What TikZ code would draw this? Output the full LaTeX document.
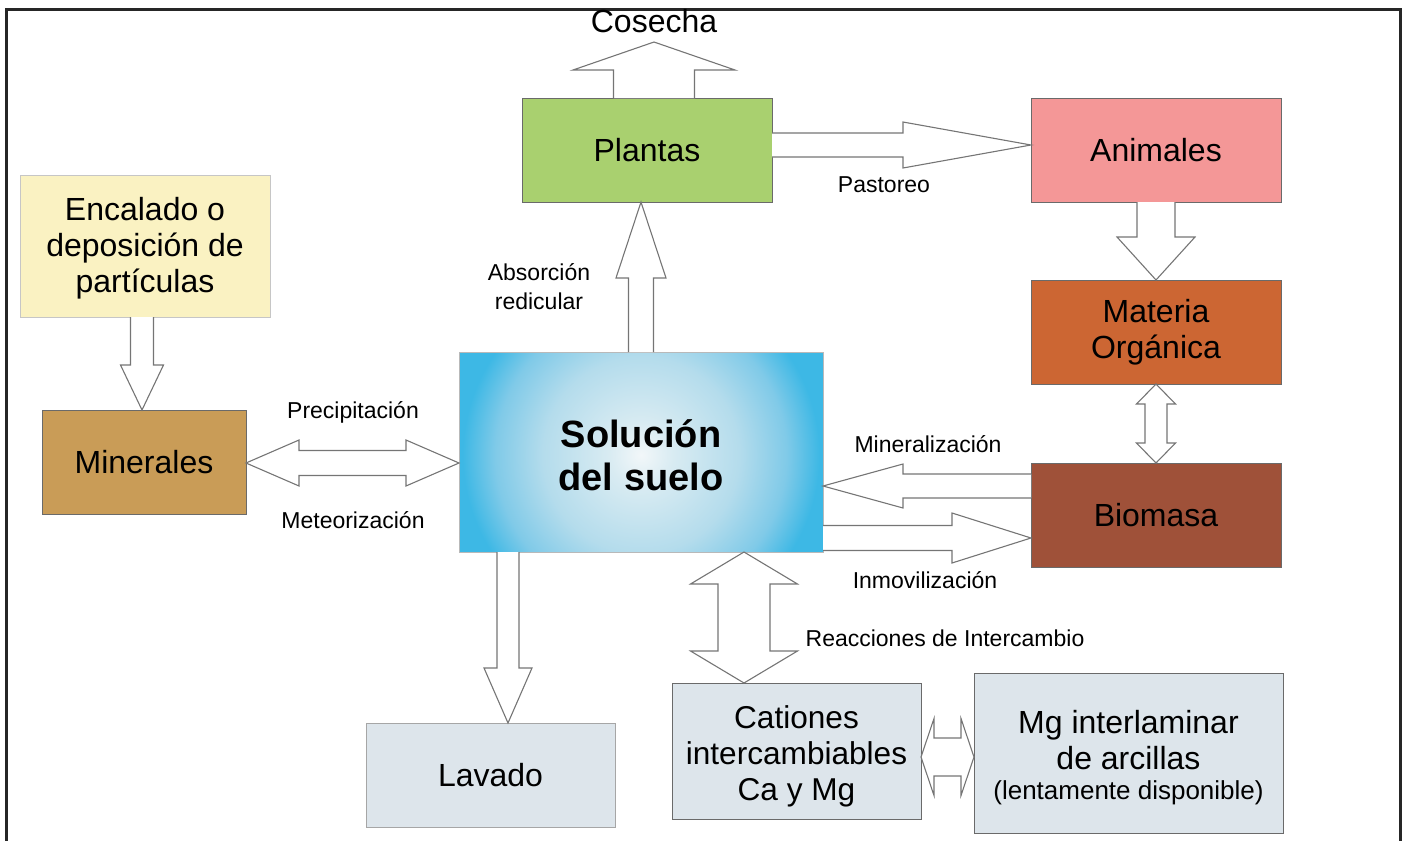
\documentclass[tikz,border=0pt]{standalone}
\usepackage{fontspec}
\setmainfont{Liberation Sans}
\usetikzlibrary{calc}
\definecolor{solblue}{HTML}{3DB8E5}
\definecolor{solA}{HTML}{F2F7F9}
\definecolor{solB}{HTML}{D8EBF2}
\definecolor{solC}{HTML}{B4DCEC}
\definecolor{solD}{HTML}{80CAE8}
\definecolor{encfill}{HTML}{FAF2C2}
\definecolor{minfill}{HTML}{C99C57}
\definecolor{plafill}{HTML}{A9D06F}
\definecolor{anifill}{HTML}{F49797}
\definecolor{matfill}{HTML}{CC6633}
\definecolor{biofill}{HTML}{9F5139}
\definecolor{lightbox}{HTML}{DDE5EB}
\definecolor{boxline}{HTML}{6A6A6A}
\definecolor{arrline}{HTML}{757575}
\pgfdeclareradialshading{solshade}{\pgfpoint{0bp}{0bp}}{color(0bp)=(solA); color(4.5bp)=(solB); color(13.5bp)=(solC); color(20bp)=(solD); color(24.5bp)=(solblue); color(50bp)=(solblue)}
% block arrows: #1 start, #2 tip, #3 shaft half width, #4 head half width, #5 head length
\newcommand\arrU[5]{\draw[barrow] ($(#1 -| #2)+(-#3,0)$) -- ($(#2)+(-#3,#5)$) -- ($(#2)+(-#4,#5)$) -- (#2) -- ($(#2)+(#4,#5)$) -- ($(#2)+(#3,#5)$) -- ($(#1 -| #2)+(#3,0)$);}
\newcommand\arrD[5]{\draw[barrow] ($(#1 -| #2)+(-#3,0)$) -- ($(#2)+(-#3,-#5)$) -- ($(#2)+(-#4,-#5)$) -- (#2) -- ($(#2)+(#4,-#5)$) -- ($(#2)+(#3,-#5)$) -- ($(#1 -| #2)+(#3,0)$);}
\newcommand\arrR[5]{\draw[barrow] ($(#1 |- #2)+(0,-#3)$) -- ($(#2)+(-#5,-#3)$) -- ($(#2)+(-#5,-#4)$) -- (#2) -- ($(#2)+(-#5,#4)$) -- ($(#2)+(-#5,#3)$) -- ($(#1 |- #2)+(0,#3)$);}
\newcommand\arrL[5]{\draw[barrow] ($(#1 |- #2)+(0,-#3)$) -- ($(#2)+(#5,-#3)$) -- ($(#2)+(#5,-#4)$) -- (#2) -- ($(#2)+(#5,#4)$) -- ($(#2)+(#5,#3)$) -- ($(#1 |- #2)+(0,#3)$);}
\newcommand\arrLR[5]{\draw[barrow] (#1 |- #2) -- ($(#1 |- #2)+(#5,-#4)$) -- ($(#1 |- #2)+(#5,-#3)$) -- ($(#2)+(-#5,-#3)$) -- ($(#2)+(-#5,-#4)$) -- (#2) -- ($(#2)+(-#5,#4)$) -- ($(#2)+(-#5,#3)$) -- ($(#1 |- #2)+(#5,#3)$) -- ($(#1 |- #2)+(#5,#4)$) -- cycle;}
\newcommand\arrUD[5]{\draw[barrow] (#1 -| #2) -- ($(#1 -| #2)+(#4,#5)$) -- ($(#1 -| #2)+(#3,#5)$) -- ($(#2)+(#3,-#5)$) -- ($(#2)+(#4,-#5)$) -- (#2) -- ($(#2)+(-#4,-#5)$) -- ($(#2)+(-#3,-#5)$) -- ($(#1 -| #2)+(-#3,#5)$) -- ($(#1 -| #2)+(-#4,#5)$) -- cycle;}
\begin{document}
\begin{tikzpicture}[x=0.5pt,y=-0.5pt,
  box/.style={draw=boxline, line width=0.5pt, inner sep=0pt, outer sep=0pt, align=center, font=\fontsize{16}{18}\selectfont},
  txt/.style={inner sep=0pt, align=center, font=\fontsize{16}{18}\selectfont},
  lab/.style={inner sep=0pt, align=center, font=\fontsize{11.5}{14.5}\selectfont},
  barrow/.style={draw=arrline, line width=0.55pt, fill=white, line join=miter}]
\useasboundingbox (0,0) rectangle (1405,841);
\draw[line width=1.5pt, black!85] (6,841) -- (6,9) -- (1400,9) -- (1400,841);

% soil solution shading
\begin{scope}
\clip (459,352) rectangle (823,552);
\shade[shading=solshade] (459,273) rectangle (823,637);
\end{scope}

% boxes
\node[box, fill=encfill, draw=gray!45, minimum width=125pt, minimum height=71pt] (enc) at (145,246) {};
\node[txt] (enct) at ($(enc)+(0,2)$) {Encalado o\\deposición de\\partículas};
\node[box, fill=minfill, minimum width=102pt, minimum height=52pt] (min) at (144,462) {Minerales};
\node[box, fill=plafill, minimum width=125pt, minimum height=52pt] (pla) at (647,150) {Plantas};
\node[box, fill=anifill, minimum width=125pt, minimum height=52pt] (ani) at (1156,150) {Animales};
\node[box, fill=matfill, minimum width=125pt, minimum height=52pt] (mat) at (1156,332) {Materia\\Orgánica};
\node[box, fill=biofill, minimum width=125pt, minimum height=52pt] (bio) at (1156,515) {Biomasa};
\node[box, draw=gray!55, minimum width=182pt, minimum height=100pt] (sol) at (641,452) {};
\node[txt, font=\bfseries\fontsize{19}{21.5}\selectfont] (solt) at ($(sol)+(0,3.5)$) {Solución\\del suelo};
\node[box, fill=lightbox, draw=gray!70, minimum width=124.5pt, minimum height=52pt] (lav) at (490.5,775) {Lavado};
\node[box, fill=lightbox, minimum width=124.5pt, minimum height=68pt] (cat) at (796.5,751) {};
\node[txt, font=\fontsize{15.8}{18}\selectfont] (catt) at ($(cat)+(0,5)$) {Cationes\\intercambiables\\Ca y Mg};
\node[box, fill=lightbox, minimum width=154.5pt, minimum height=80pt] (mg) at (1128.5,753) {};
\node[txt] (mgt) at ($(mg)+(0,5)$) {Mg interlaminar\\de arcillas\\[-3pt]{\fontsize{13}{16}\selectfont (lentamente disponible)}};

% arrow end points
\coordinate (cos) at ($(pla.north)+(7,-56)$);
\coordinate (abs) at (sol.north |- pla.south);
\coordinate (pas) at ($(ani.west)+(0,-5)$);
\coordinate (minz) at ($(sol.east)+(0,34)$);
\coordinate (inm) at ($(bio.west)+(0,23)$);
\coordinate (pm) at ($(sol.west)+(0,11)$);
\coordinate (emin) at ($(min.north)+(-2,0)$);
\coordinate (lv) at ($(lav.north)+(17.5,0)$);
\coordinate (xb) at ($(cat.north)+(-52.5,0)$);
\coordinate (cm) at ($(mg.west)+(0,4)$);

% arrows
\arrU{pla.north}{cos}{40.5}{81}{28}
\arrU{sol.north}{abs}{12.5}{25}{76}
\arrR{pla.east}{pas}{12}{23}{128}
\arrD{ani.south}{mat.north}{19}{39}{43}
\arrUD{mat.south}{bio.north}{11}{19.5}{20}
\arrL{bio.west}{minz}{12}{22}{80}
\arrR{sol.east}{inm}{12.5}{25}{79}
\arrLR{min.east}{pm}{12.5}{23}{53}
\arrD{enc.south}{emin}{11.5}{21.5}{45}
\arrD{sol.south}{lv}{11}{24}{55}
\arrUD{sol.south}{xb}{26}{53.5}{32}
\arrLR{cat.east}{cm}{19}{38.5}{13}

% labels
\node[lab, font=\fontsize{16}{18}\selectfont] (lcos) at (654,21) {Cosecha};
\node[lab] (lpas) at (884,185) {Pastoreo};
\node[lab] (labs) at (539,287) {Absorción\\redicular};
\node[lab] (lpre) at (353,412) {Precipitación};
\node[lab] (lmet) at (353,520) {Meteorización};
\node[lab] (lmin) at (928,444) {Mineralización};
\node[lab] (linm) at (925,580) {Inmovilización};
\node[lab] (lrea) at (945,638) {Reacciones de Intercambio};
\end{tikzpicture}
\end{document}
